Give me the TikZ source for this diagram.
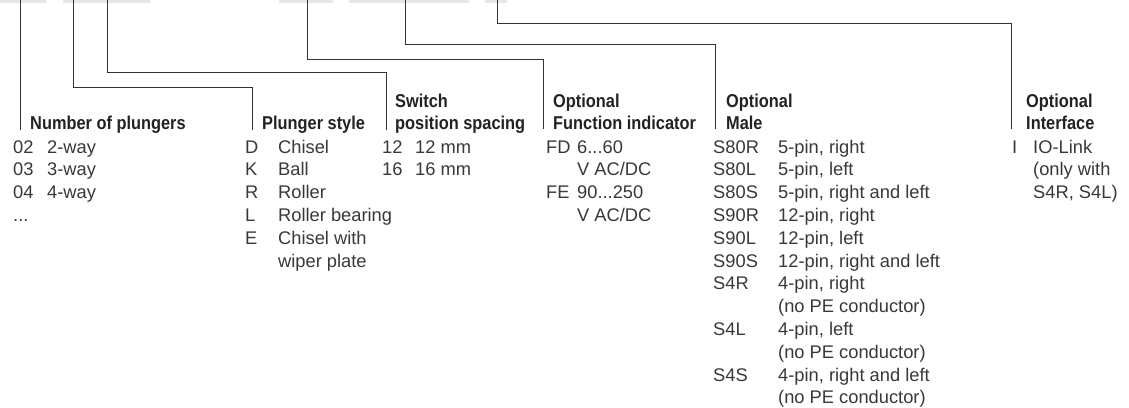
\documentclass[tikz,border=0pt]{standalone}
\usepackage{fontspec}
\setmainfont{Liberation Sans}
\newfontfamily\hfont[FakeStretch=0.88]{Liberation Sans}
\newfontfamily\bfont{Liberation Sans}
\newcommand{\tdots}{...}
\definecolor{ln}{HTML}{333333}
\definecolor{hd}{HTML}{222222}
\definecolor{bd}{HTML}{383838}
\definecolor{bx}{HTML}{E6E6E6}
\tikzset{
  head/.style={anchor=base west, inner sep=0pt, text=hd, font=\hfont\bfseries\fontsize{18.6}{22}\selectfont},
  body/.style={anchor=base west, inner sep=0pt, text=bd, font=\bfont\fontsize{18.3}{22}\selectfont},
  lead/.style={draw=ln, line width=0.9pt},
  topbox/.style={fill=bx, draw=none}
}
\begin{document}
\begin{tikzpicture}[x=1pt,y=-1pt]
\useasboundingbox (0,0) rectangle (1129,407);
% grey code boxes at top
\fill[topbox] (0,0) rectangle (46,2.5);
\fill[topbox] (63,0) rectangle (150,2.5);
\fill[topbox] (279,0) rectangle (333,2.5);
\fill[topbox] (349,0) rectangle (469,2.5);
\fill[topbox] (485,0) rectangle (507,2.5);
% start points
\coordinate (t1) at (20,0);
\coordinate (t2) at (73,0);
\coordinate (t3) at (107,0);
\coordinate (t4) at (307,0);
\coordinate (t5) at (405,0);
\coordinate (t6) at (497,0);
% bends
\coordinate (k2) at (252,87);
\coordinate (k3) at (386,72);
\coordinate (k4) at (543,59);
\coordinate (k5) at (715,44);
\coordinate (k6) at (1011,23);
% ends
\coordinate (e1) at (20,130);
\coordinate (e2) at (252,130);
\coordinate (e3) at (386,130);
\coordinate (e4) at (543,129);
\coordinate (e5) at (715,129);
\coordinate (e6) at (1011,129);
\draw[lead] (t1) -- (e1);
\draw[lead] (t2) |- (k2) -- (e2);
\draw[lead] (t3) |- (k3) -- (e3);
\draw[lead] (t4) |- (k4) -- (e4);
\draw[lead] (t5) |- (k5) -- (e5);
\draw[lead] (t6) |- (k6) -- (e6);
% headings
\node[head] (h1) at (30,129) {Number of plungers};
\node[head] (h2) at (262,129) {Plunger style};
\node[head] (h3a) at (395,107) {Switch};
\node[head] (h3b) at (395,129) {position spacing};
\node[head] (h4a) at (553,107) {Optional};
\node[head] (h4b) at (553,129) {Function indicator};
\node[head] (h5a) at (726,107) {Optional};
\node[head] (h5b) at (726,129) {Male};
\node[head] (h6a) at (1026,107) {Optional};
\node[head] (h6b) at (1026,129) {Interface};
% column 1
\foreach \c/\d [count=\i from 0] in {02/2-way,03/3-way,04/4-way,\tdots/{}} {
  \node[body] (ac\i) at (13,153+22.8*\i) {\c};
  \node[body] (ad\i) at (47,153+22.8*\i) {\d};
}
% column 2
\foreach \c/\d [count=\i from 0] in {D/Chisel,K/Ball,R/Roller,L/Roller bearing,E/Chisel with,{}/wiper plate} {
  \node[body] (bc\i) at (245,153+22.8*\i) {\c};
  \node[body] (bd\i) at (278,153+22.8*\i) {\d};
}
% column 3
\foreach \c/\d [count=\i from 0] in {12/12 mm,16/16 mm} {
  \node[body] (cc\i) at (382,153+22.8*\i) {\c};
  \node[body] (cd\i) at (415,153+22.8*\i) {\d};
}
% column 4
\foreach \c/\d [count=\i from 0] in {FD/6\tdots 60,{}/V AC\slash DC,FE/90\tdots 250,{}/V AC\slash DC} {
  \node[body] (dc\i) at (546,153+22.8*\i) {\c};
  \node[body] (dd\i) at (577,153+22.8*\i) {\d};
}
% column 5
\foreach \c/\d [count=\i from 0] in {S80R/{5-pin, right},S80L/{5-pin, left},S80S/{5-pin, right and left},S90R/{12-pin, right},S90L/{12-pin, left},S90S/{12-pin, right and left},S4R/{4-pin, right},{}/{(no PE conductor)},S4L/{4-pin, left},{}/{(no PE conductor)},S4S/{4-pin, right and left},{}/{(no PE conductor)}} {
  \node[body] (ec\i) at (713,153+22.8*\i) {\c};
  \node[body] (ed\i) at (778,153+22.8*\i) {\d};
}
% column 6
\foreach \c/\d [count=\i from 0] in {I/IO-Link,{}/{(only with},{}/{S4R, S4L)}} {
  \node[body] (fc\i) at (1012,153+22.8*\i) {\c};
  \node[body] (fd\i) at (1033,153+22.8*\i) {\d};
}
\end{tikzpicture}
\end{document}
